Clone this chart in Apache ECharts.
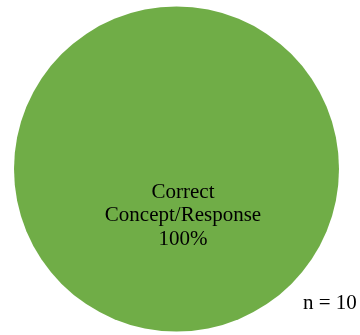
<!DOCTYPE html>
<html>
<head>
<meta charset="utf-8">
<style>
  html, body { margin: 0; padding: 0; background: #ffffff; }
  #chart { width: 360px; height: 335px; }
</style>
<script src="https://cdn.jsdelivr.net/npm/echarts@6/dist/echarts.min.js"></script>
</head>
<body>
<div id="chart"></div>
<script>
// Response categories and their counts
const categories = ['Correct\nConcept/Response'];
const counts = [10];
const sliceColors = ['#70AD47'];
const sampleSize = counts.reduce((a, b) => a + b, 0);

const chart = echarts.init(document.getElementById('chart'), null, { renderer: 'canvas' });

const serif = '"Liberation Serif", "Times New Roman", "DejaVu Serif", serif';

chart.setOption({
  animation: false,
  backgroundColor: '#ffffff',
  series: [{
    type: 'pie',
    center: [176.5, 169],
    radius: [0, 162.5],
    startAngle: 90,
    silent: true,
    emphasis: { disabled: true },
    itemStyle: { borderWidth: 0 },
    label: {
      show: true,
      position: 'center',
      fontFamily: serif,
      fontSize: 21,
      lineHeight: 23.5,
      color: '#000000',
      align: 'center',
      formatter: (p) => p.name + '\n' + Math.round(p.percent) + '%'
    },
    labelLayout: { dx: 6.5, dy: 46.5 },
    labelLine: { show: false },
    data: categories.map((name, i) => ({
      name: name,
      value: counts[i],
      itemStyle: { color: sliceColors[i] }
    }))
  }],
  graphic: [{
    type: 'text',
    left: 303,
    top: 293,
    silent: true,
    style: {
      text: 'n = ' + sampleSize,
      font: '21px ' + serif,
      fill: '#000000'
    }
  }]
});
</script>
</body>
</html>
